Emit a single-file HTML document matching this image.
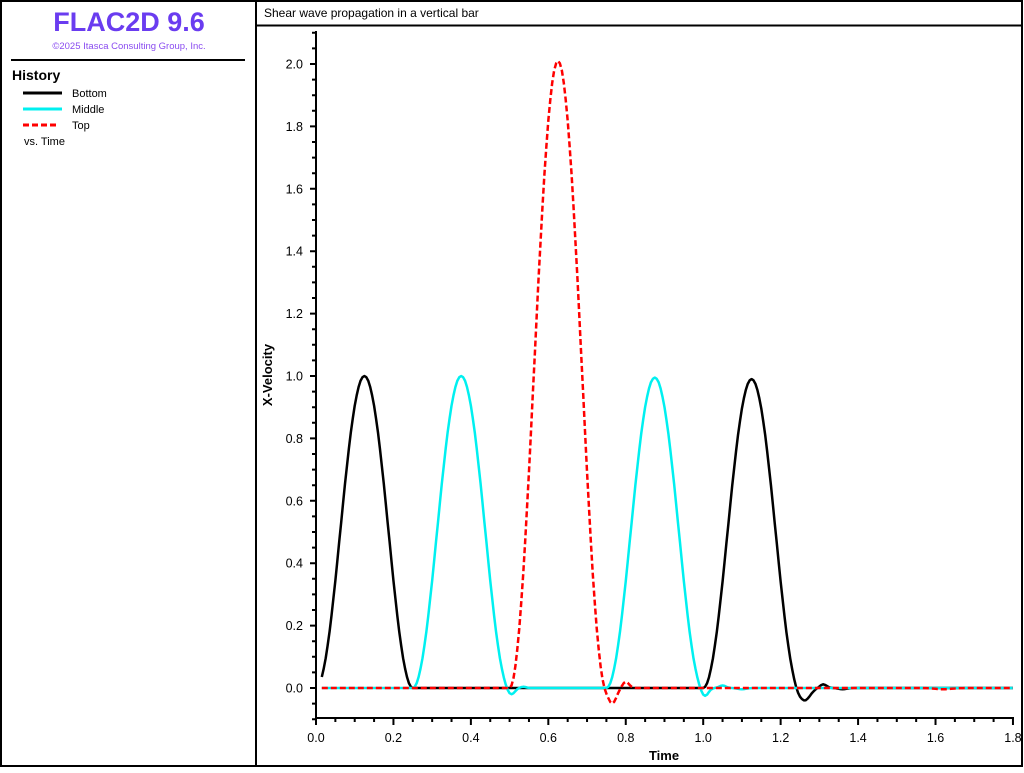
<!DOCTYPE html>
<html><head><meta charset="utf-8"><style>
body{margin:0;width:1024px;height:768px;overflow:hidden;background:#fff;font-family:"Liberation Sans",sans-serif}
</style></head><body>
<svg id="s" width="1024" height="768" xmlns="http://www.w3.org/2000/svg" font-family="Liberation Sans, sans-serif">
<rect x="1" y="1" width="255" height="765" fill="none" stroke="#000" stroke-width="2"/>
<rect x="256" y="1" width="766" height="765" fill="none" stroke="#000" stroke-width="2"/>
<line x1="256" y1="25.5" x2="1022" y2="25.5" stroke="#000" stroke-width="2"/>
<text x="129" y="31" text-anchor="middle" font-size="27" font-weight="bold" fill="#6a3cf0">FLAC2D 9.6</text>
<text x="129" y="49" text-anchor="middle" font-size="9.5" fill="#8a4cf0">©2025 Itasca Consulting Group, Inc.</text>
<line x1="11" y1="60" x2="245" y2="60" stroke="#000" stroke-width="2"/>
<text x="12" y="80" font-size="14" font-weight="bold">History</text>
<line x1="23" y1="93" x2="62" y2="93" stroke="#000" stroke-width="3"/>
<text x="72" y="97" font-size="11">Bottom</text>
<line x1="23" y1="109" x2="62" y2="109" stroke="#00f0f0" stroke-width="3"/>
<text x="72" y="113" font-size="11">Middle</text>
<line x1="23" y1="125" x2="56" y2="125" stroke="#f00" stroke-width="3" stroke-dasharray="6,3"/>
<text x="72" y="129" font-size="11">Top</text>
<text x="24" y="145" font-size="11">vs. Time</text>
<text x="264" y="17" font-size="12">Shear wave propagation in a vertical bar</text>
<g id="ax" stroke="#000" stroke-width="2"></g>
<g id="lab" font-size="12.5"></g>
<text x="664" y="760" text-anchor="middle" font-size="13" font-weight="bold">Time</text>
<text transform="translate(272,375) rotate(-90)" text-anchor="middle" font-size="13" font-weight="bold">X-Velocity</text>
<g id="cv" fill="none" stroke-width="2.5" stroke-linejoin="round"></g>
</svg>
<script>
(function(){
var NS="http://www.w3.org/2000/svg";
function X(t){return 316+t*387.2}
function Y(v){return 688-v*312}
function el(p,tag,a,txt){var e=document.createElementNS(NS,tag);for(var k in a)e.setAttribute(k,a[k]);if(txt)e.textContent=txt;document.getElementById(p).appendChild(e);return e}
var ax="M316,31V719M315,718H1014";
for(var i=-2;i<=42;i++){var v=i*0.05,y=Y(v);if(y<31)continue;ax+="M"+(i%4==0?310:312)+","+y+"H316";}
for(var i=0;i<=36;i++){var x=X(i*0.05);ax+="M"+x+",718V"+(i%4==0?725:722);}
el("ax","path",{d:ax,fill:"none"});
for(var i=0;i<=10;i++){el("lab","text",{x:303,y:Y(i*0.2)+4.5,"text-anchor":"end"},(i*0.2).toFixed(1));}
for(var i=0;i<=9;i++){el("lab","text",{x:X(i*0.2),y:742,"text-anchor":"middle"},(i*0.2).toFixed(1));}
function P(t,t0){var u=(t-t0)/0.25;return(u>0&&u<1)?0.5*(1-Math.cos(2*Math.PI*u)):0}
function G(t,c,w,a){return a*Math.exp(-Math.pow((t-c)/w,2))}
function fb(t){return P(t,0)+P(t,1.0)*0.99+G(t,1.262,0.02,-0.04)+G(t,1.31,0.012,0.012)+G(t,1.36,0.015,-0.004)}
function fm(t){return P(t,0.25)+P(t,0.75)*0.995+G(t,0.505,0.012,-0.02)+G(t,0.535,0.01,0.004)+G(t,1.005,0.012,-0.025)+G(t,1.05,0.012,0.008)+G(t,1.1,0.015,-0.004)}
function ft(t){return 2.01*P(t,0.5)+G(t,0.765,0.015,-0.05)+G(t,0.8,0.012,0.02)+G(t,1.62,0.03,-0.004)}
function path(f){var d="";for(var t=0.015;t<=1.8001;t+=0.005){d+=(d?"L":"M")+X(t).toFixed(1)+","+Y(f(t)).toFixed(1);}return d}
el("cv","path",{d:path(fb),stroke:"#000"});
el("cv","path",{d:path(fm),stroke:"#00f0f0"});
el("cv","path",{d:path(ft),stroke:"#f00","stroke-dasharray":"6,3"});
})();
</script>
</body></html>
